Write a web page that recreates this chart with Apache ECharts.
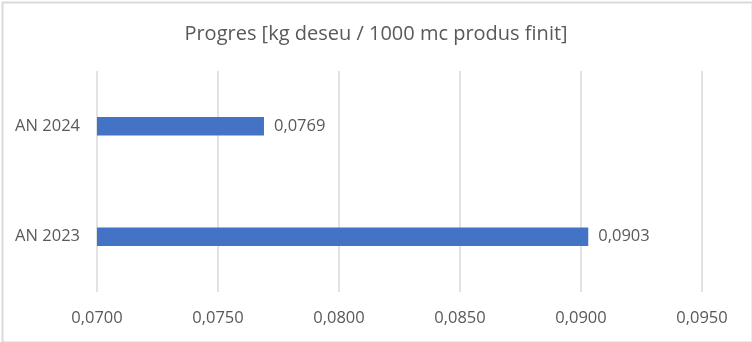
<!DOCTYPE html>
<html>
<head>
<meta charset="utf-8">
<script src="https://cdn.jsdelivr.net/npm/echarts@6/dist/echarts.min.js"></script>
<style>
html,body{margin:0;padding:0;background:#fff;}
#c{width:752px;height:342px;}
</style>
</head>
<body>
<div id="c"></div>
<script>
const titleText = 'Progres [kg deseu / 1000 mc produs finit]';
const categories = ['AN 2023', 'AN 2024'];
const values = [0.0903, 0.0769];
const axisMin = 0.07;
const axisMax = 0.095;
const axisInterval = 0.005;

const FONT = '"Open Sans", sans-serif';
const TXT = '#595959';
const fmt = v => v.toFixed(4).replace('.', ',');

const chart = echarts.init(document.getElementById('c'), null, {renderer: 'canvas'});
chart.setOption({
  animation: false,
  backgroundColor: '#ffffff',
  graphic: [{
    type: 'rect', left: 0, top: 0,
    shape: {x: 1, y: 1, width: 750, height: 340},
    style: {fill: 'none', stroke: '#d9d9d9', lineWidth: 2},
    silent: true
  }],
  title: {
    text: titleText, left: 'center', top: 19,
    textStyle: {fontFamily: FONT, fontSize: 20, fontWeight: 'normal', color: TXT}
  },
  grid: {left: 97, right: 50, top: 71, bottom: 50, containLabel: false},
  xAxis: {
    type: 'value', min: axisMin, max: axisMax, interval: axisInterval,
    axisLine: {show: false}, axisTick: {show: false},
    splitLine: {show: true, lineStyle: {color: '#d9d9d9', width: 1.5}},
    axisLabel: {formatter: fmt, color: TXT, fontFamily: FONT, fontSize: 16.5, margin: 18}
  },
  yAxis: {
    type: 'category', data: categories,
    axisLine: {show: false}, axisTick: {show: false},
    axisLabel: {color: TXT, fontFamily: FONT, fontSize: 16.5, margin: 17}
  },
  series: [{
    type: 'bar', data: values, barWidth: 18.5,
    itemStyle: {color: '#4472C4'},
    label: {show: true, position: 'right', distance: 10, formatter: p => fmt(p.value),
      color: TXT, fontFamily: FONT, fontSize: 16.5}
  }]
});
</script>
</body>
</html>
